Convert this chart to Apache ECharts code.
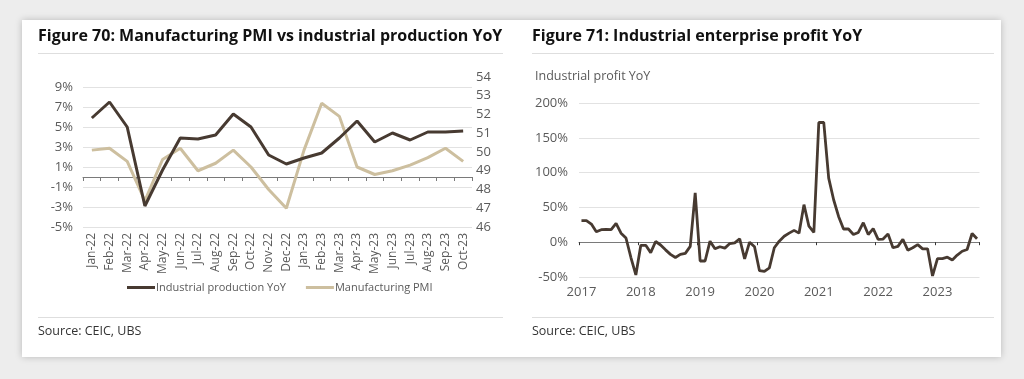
<!DOCTYPE html>
<html>
<head>
<meta charset="utf-8">
<script src="https://cdn.jsdelivr.net/npm/echarts@6/dist/echarts.min.js"></script>
<style>
  html, body { margin: 0; padding: 0; width: 1024px; height: 379px; background: #ededed; overflow: hidden; }
  #card { position: absolute; left: 22px; top: 20px; width: 979px; height: 337px; background: #ffffff; box-shadow: 0 0 7px rgba(0,0,0,0.22); }
  #main { position: absolute; left: 0; top: 0; width: 1024px; height: 379px; }
</style>
</head>
<body>
<div id="card"></div>
<div id="main"></div>
<script>
// ---------- Figure 70 data ----------
const months70 = ['Jan-22','Feb-22','Mar-22','Apr-22','May-22','Jun-22','Jul-22','Aug-22','Sep-22','Oct-22','Nov-22','Dec-22',
                  'Jan-23','Feb-23','Mar-23','Apr-23','May-23','Jun-23','Jul-23','Aug-23','Sep-23','Oct-23'];
const industrialProductionYoY = [5.9, 7.5, 5.0, -2.9, 0.7, 3.9, 3.8, 4.2, 6.3, 5.0, 2.2, 1.3,
                                 1.9, 2.4, 3.9, 5.6, 3.5, 4.4, 3.7, 4.5, 4.5, 4.6];
const manufacturingPMI = [50.1, 50.2, 49.5, 47.4, 49.6, 50.2, 49.0, 49.4, 50.1, 49.2, 48.0, 47.0,
                          50.1, 52.6, 51.9, 49.2, 48.8, 49.0, 49.3, 49.7, 50.2, 49.5];
const leftTicks70 = { min: -5, max: 10, interval: 2 };
const rightTicks70 = { min: 46, max: 54, interval: 1 };

// ---------- Figure 71 data ----------
const months71 = [];
for (let y = 2017; y <= 2023; y++) {
  for (let m = 1; m <= 12; m++) {
    if (y === 2023 && m > 9) break;
    months71.push(y + '-' + (m < 10 ? '0' + m : '' + m));
  }
}
const industrialProfitYoY = [
  31, 31, 26, 15, 18, 18.5, 18, 27, 13, 6, -22, -47,
  -4.5, -4.5, -15, 1, -4, -11, -17.5, -22, -17.5, -16, -6, 71,
  -27, -27, 1.5, -9.5, -6.5, -8.5, -2, -1, 5, -24, 0, -6.5,
  -41, -42, -37, -8, 1.5, 8.5, 13, 17, 13, 54, 23, 14,
  172, 172, 92, 61, 37, 19, 19, 11, 14, 28, 11, 19.5,
  4, 4.5, 12, -8, -6, 4, -11.5, -8, -3.5, -9.5, -9.5, -48.5,
  -23.5, -23.5, -21.5, -25.5, -18.5, -13, -10.5, 12.5, 5
];
const ticks71 = { min: -50, max: 200, interval: 50 };

const DARK = '#473a31';
const SAND = '#cdbf9f';
const GRID = '#e2e2e2';
const AXIS = '#7a7a7a';
const LABEL = '#5a5a5a';
const FONT = '"Open Sans", "Noto Sans", sans-serif';

const chart = echarts.init(document.getElementById('main'), null, { renderer: 'canvas' });

const option = {
  backgroundColor: 'transparent',
  animation: false,
  textStyle: { fontFamily: FONT },
  title: [
    { text: 'Figure 70: Manufacturing PMI vs industrial production YoY', left: 38, top: 28, padding: 0,
      textStyle: { fontFamily: FONT, fontSize: 16, fontWeight: 'bold', color: '#111' } },
    { text: 'Figure 71: Industrial enterprise profit YoY', left: 532, top: 28, padding: 0,
      textStyle: { fontFamily: FONT, fontSize: 16, fontWeight: 'bold', color: '#111' } },
    { text: 'Industrial profit YoY', left: 535, top: 70, padding: 0,
      textStyle: { fontFamily: FONT, fontSize: 12.5, fontWeight: 'normal', color: LABEL } },
    { text: 'Source: CEIC, UBS', left: 38, top: 325, padding: 0,
      textStyle: { fontFamily: FONT, fontSize: 12.5, fontWeight: 'normal', color: '#333' } },
    { text: 'Source: CEIC, UBS', left: 532, top: 325, padding: 0,
      textStyle: { fontFamily: FONT, fontSize: 12.5, fontWeight: 'normal', color: '#333' } }
  ],
  graphic: [
    { type: 'line', shape: { x1: 38, y1: 53.5, x2: 503, y2: 53.5 }, style: { stroke: '#dedede', lineWidth: 1 } },
    { type: 'line', shape: { x1: 532, y1: 53.5, x2: 994, y2: 53.5 }, style: { stroke: '#dedede', lineWidth: 1 } },
    { type: 'line', shape: { x1: 38, y1: 317.5, x2: 503, y2: 317.5 }, style: { stroke: '#dedede', lineWidth: 1 } },
    { type: 'line', shape: { x1: 532, y1: 317.5, x2: 994, y2: 317.5 }, style: { stroke: '#dedede', lineWidth: 1 } }
  ],
  legend: {
    data: ['Industrial production YoY', 'Manufacturing PMI'],
    left: 127, top: 282, padding: 0,
    icon: 'rect', itemWidth: 28, itemHeight: 3, itemGap: 20,
    textStyle: { fontFamily: FONT, fontSize: 11, color: LABEL, padding: [0, 0, 0, -4] }
  },
  grid: [
    { left: 83, right: 552, top: 77, bottom: 152, containLabel: false },
    { left: 579, right: 44.5, top: 103, bottom: 102, containLabel: false }
  ],
  xAxis: [
    { // Fig 70 labels at bottom
      type: 'category', gridIndex: 0, data: months70, position: 'bottom', boundaryGap: true,
      axisLine: { show: false, onZero: false }, axisTick: { show: false }, splitLine: { show: false },
      axisLabel: { interval: 0, rotate: 90, margin: 6, fontSize: 12, color: LABEL, fontFamily: FONT }
    },
    { // Fig 70 zero line with ticks
      type: 'category', gridIndex: 0, data: months70, position: 'top', boundaryGap: true,
      axisLine: { show: true, onZero: true, lineStyle: { color: AXIS, width: 1 } },
      axisTick: { show: true, inside: true, length: 4, interval: 0, lineStyle: { color: AXIS } },
      axisLabel: { show: false }, splitLine: { show: false }
    },
    { // Fig 71 labels at bottom
      type: 'category', gridIndex: 1, data: months71, position: 'bottom', boundaryGap: true,
      axisLine: { show: false, onZero: false }, axisTick: { show: false }, splitLine: { show: false },
      axisLabel: { interval: (i, v) => v.endsWith('-01'), formatter: v => v.slice(0, 4),
                   margin: 9, fontSize: 13, color: LABEL, fontFamily: FONT }
    },
    { // Fig 71 zero line with year ticks
      type: 'category', gridIndex: 1, data: months71, position: 'top', boundaryGap: true,
      axisLine: { show: true, onZero: true, lineStyle: { color: AXIS, width: 1 } },
      axisTick: { show: true, inside: true, length: 3, interval: (i, v) => v.endsWith('-01'), lineStyle: { color: '#333' } },
      axisLabel: { show: false }, splitLine: { show: false }
    }
  ],
  yAxis: [
    {
      type: 'value', gridIndex: 0, position: 'left',
      min: leftTicks70.min, max: leftTicks70.max, interval: leftTicks70.interval,
      axisLine: { show: false }, axisTick: { show: false },
      splitLine: { show: true, showMaxLine: false, lineStyle: { color: GRID, width: 1 } },
      axisLabel: { showMaxLabel: false, formatter: v => v + '%', margin: 10, fontSize: 13, color: LABEL, fontFamily: FONT }
    },
    {
      type: 'value', gridIndex: 0, position: 'right',
      min: rightTicks70.min, max: rightTicks70.max, interval: rightTicks70.interval,
      axisLine: { show: false }, axisTick: { show: false }, splitLine: { show: false },
      axisLabel: { margin: 4, fontSize: 13, color: LABEL, fontFamily: FONT }
    },
    {
      type: 'value', gridIndex: 1, position: 'left',
      min: ticks71.min, max: ticks71.max, interval: ticks71.interval,
      axisLine: { show: false }, axisTick: { show: false },
      splitLine: { show: true, lineStyle: { color: GRID, width: 1 } },
      axisLabel: { formatter: v => v + '%', margin: 11, fontSize: 13, color: LABEL, fontFamily: FONT }
    }
  ],
  series: [
    {
      name: 'Industrial production YoY', type: 'line', xAxisIndex: 0, yAxisIndex: 0,
      data: industrialProductionYoY, symbol: 'none', z: 4,
      lineStyle: { color: DARK, width: 3 }, itemStyle: { color: DARK }
    },
    {
      name: 'Manufacturing PMI', type: 'line', xAxisIndex: 0, yAxisIndex: 1,
      data: manufacturingPMI, symbol: 'none', z: 3,
      lineStyle: { color: SAND, width: 3 }, itemStyle: { color: SAND }
    },
    {
      name: 'Industrial profit YoY', type: 'line', xAxisIndex: 2, yAxisIndex: 2,
      data: industrialProfitYoY, symbol: 'none', z: 4,
      lineStyle: { color: DARK, width: 2.8 }, itemStyle: { color: DARK }
    }
  ]
};
chart.setOption(option);
</script>
</body>
</html>
